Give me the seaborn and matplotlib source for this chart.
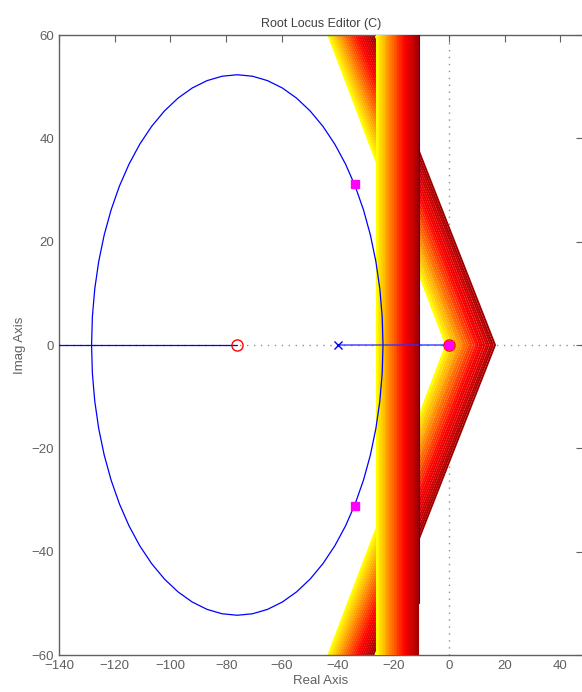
import numpy as np
import pandas as pd
import matplotlib
matplotlib.use('Agg')
import matplotlib.pyplot as plt
import seaborn as sns

# open-loop poles / zeros of the system
poles = [0, -40]
zeros = [-76]

# current closed-loop poles (magenta squares)
cl_re = [-33.7, -33.7, 0.0]
cl_im = [31.2, -31.2, 0.0]

# vertical colored band: x position of each line (yellow -> dark red)
band_x = [-26.0, -25.3, -24.7, -24.0, -23.4, -22.7, -22.1, -21.4, -20.8, -20.1,
          -19.5, -18.8, -18.2, -17.5, -16.9, -16.2, -15.6, -14.9, -14.3, -13.6,
          -13.0, -12.3, -11.7, -11.0]

# V-shaped colored band: vertex on real axis and x where it leaves the plot at +/-60
v_vertex = [-1.0, -0.2, 0.5, 1.3, 2.0, 2.8, 3.6, 4.3, 5.1, 5.8,
            6.6, 7.4, 8.1, 8.9, 9.7, 10.4, 11.2, 11.9, 12.7, 13.5,
            14.2, 15.0, 15.7, 16.5]
v_top = [-43.3, -42.6, -41.9, -41.2, -40.5, -39.8, -39.1, -38.4, -37.7, -37.0,
         -36.3, -35.6, -34.9, -34.2, -33.5, -32.8, -32.1, -31.4, -30.7, -30.0,
         -29.3, -28.6, -27.9, -27.2]

xticks = [-140, -120, -100, -80, -60, -40, -20, 0, 20, 40]
yticks = [-60, -40, -20, 0, 20, 40, 60]

sns.set_style('white')
plt.rcParams['font.family'] = ['Liberation Sans', 'DejaVu Sans']
gray = '#606060'

fig = plt.figure(figsize=(5.82, 6.92), dpi=100)
ax = fig.add_axes([59 / 582, 37 / 692, 524 / 582, 620 / 692])

# dotted lines through the origin
ax.axhline(0, color='#909090', ls=(0, (1, 4)), lw=1, zorder=0)
ax.axvline(0, color='#909090', ls=(0, (1, 4)), lw=1, zorder=0)

pal = sns.blend_palette(['#ffff00', '#ffc000', '#ff8000', '#ff4000', '#ff0000',
                         '#d80000', '#a00000'], len(band_x))

rows = []
for i, (vt, vv) in enumerate(zip(v_top, v_vertex)):
    rows += [(vt, 60, i), (vv, 0, i), (vt, -60, i)]
df_v = pd.DataFrame(rows, columns=['x', 'y', 'k'])
sns.lineplot(data=df_v, x='x', y='y', hue='k', palette=pal, sort=False, estimator=None,
             lw=1.5, legend=False, zorder=2, ax=ax)

rows = []
for i, bx in enumerate(band_x):
    rows += [(bx, 60, i), (bx, -60, i)]
df_b = pd.DataFrame(rows, columns=['x', 'y', 'k'])
sns.lineplot(data=df_b, x='x', y='y', hue='k', palette=pal, sort=False, estimator=None,
             lw=1.5, legend=False, zorder=3, ax=ax)

# root locus circle around the zero
z = zeros[0]
r = np.sqrt((z - poles[0]) * (z - poles[1]))
th = np.linspace(0, 2 * np.pi, 61)
circ = pd.DataFrame({'x': z + r * np.cos(th), 'y': r * np.sin(th)})
sns.lineplot(data=circ, x='x', y='y', sort=False, estimator=None, color='blue', lw=0.9,
             zorder=4, ax=ax)

# real-axis branches
ax.plot([-140, z], [0, 0], color='blue', lw=0.9, zorder=4)
ax.plot([poles[1], poles[0]], [0, 0], color='#3030ff', lw=1.2, alpha=0.8, zorder=4)
ax.plot([-10.8, -10.8], [60, -50], color='blue', lw=0.8, zorder=4)

# pole / zero markers
ax.plot(poles[1], 0, 'x', color='blue', ms=6, mew=1, zorder=5)
ax.plot(zeros + [0], [0, 0], 'o', mfc='none', mec='red', ms=8, mew=1, zorder=5)
ax.plot(cl_re, cl_im, 's', color='#ff00ff', ms=6, mec='#ff00ff', zorder=6)

ax.set_xlim(-140, 48.1)
ax.set_ylim(-60, 60)
ax.set_xticks(xticks)
ax.set_yticks(yticks)
ax.set_xticklabels([f'\u2212{abs(t)}' if t < 0 else str(t) for t in xticks])
ax.set_yticklabels([f'\u2212{abs(t)}' if t < 0 else str(t) for t in yticks])
ax.tick_params(direction='in', length=5, top=True, right=True, colors=gray,
               labelsize=9.5, width=0.8)
for s in ax.spines.values():
    s.set_color(gray)
    s.set_linewidth(1)
ax.set_xlabel('Real Axis', color=gray, fontsize=9.5, labelpad=2)
ax.set_ylabel('Imag Axis', color=gray, fontsize=9.5, labelpad=4)
ax.set_title('Root Locus Editor (C)', color='#404040', fontsize=9, pad=6)

fig.savefig('out.png', dpi=100)
